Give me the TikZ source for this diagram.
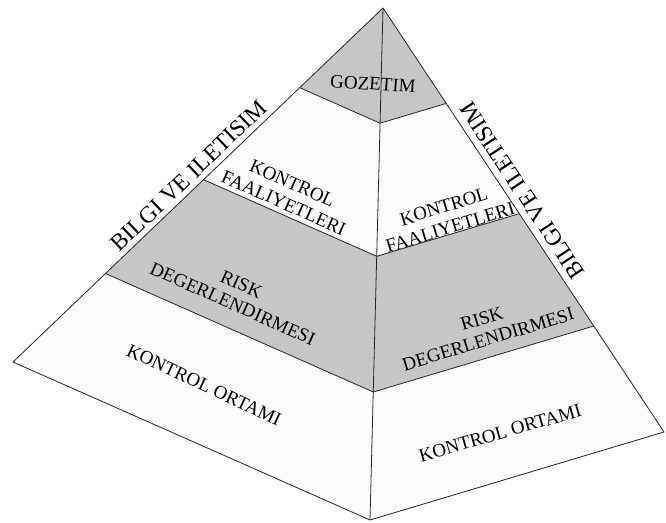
\documentclass[tikz,border=0pt]{standalone}
\usepackage{fontspec}
\setmainfont{Liberation Serif}
\usetikzlibrary{calc}
\definecolor{pyrGray}{RGB}{198,198,198}
\definecolor{pyrWhite}{RGB}{251,251,251}

\begin{document}
\begin{tikzpicture}[
    x=1pt, y=-1pt,
    pyrEdgeStyle/.style={black!85, line width=0.8pt, line join=round},
    pyrLabel/.style={font=\fontsize{19}{21.5}\selectfont, align=center, inner sep=0pt},
    pyrSideLabel/.style={font=\fontsize{23.5}{25}\selectfont, inner sep=5pt}
]
    \useasboundingbox (0,0) rectangle (666,522);

    % koseler
    \coordinate (apex) at (383,8);
    \coordinate (left) at (13,362);
    \coordinate (front) at (370,520);
    \coordinate (right) at (664,432);

    % katmanlar
    \foreach \ta/\tb/\kind in {0/0.225/pyrGray, 0.225/0.485/pyrWhite,
                               0.485/0.75/pyrGray, 0.75/1/pyrWhite} {
        \foreach \side in {left, right} {
            \fill[fill=\kind] ($(apex)!\ta!(\side)$) -- ($(apex)!\tb!(\side)$)
                -- ($(apex)!\tb!(front)$) -- ($(apex)!\ta!(front)$) -- cycle;
        }
    }

    % yazilar
    \node[pyrLabel, rotate=-4] (gozetim) at (373,84) {GOZETIM};
    \node[pyrLabel, rotate=-24] (faalL) at (288,193) {KONTROL\\FAALIYETLERI};
    \node[pyrLabel, rotate=17] (faalR) at (447,217) {KONTROL\\FAALIYETLERI};
    \node[pyrLabel, rotate=-24] (riskL) at (237,294) {RISK\\DEGERLENDIRMESI};
    \node[pyrLabel, rotate=17] (riskR) at (485,329) {RISK\\DEGERLENDIRMESI};
    \node[pyrLabel, rotate=-25] (ortamL) at (204,385) {KONTROL ORTAMI};
    \node[pyrLabel, rotate=16] (ortamR) at (500,433) {KONTROL ORTAMI};

    % kenarlar
    \draw[pyrEdgeStyle] (apex) -- (left) -- (front) -- (right) -- cycle;
    \draw[pyrEdgeStyle] (apex) -- (front);
    \foreach \t in {0.225, 0.485, 0.75}
        \draw[pyrEdgeStyle] ($(apex)!\t!(left)$) -- ($(apex)!\t!(front)$)
            -- ($(apex)!\t!(right)$);

    % bilgi ve iletisim
    \path (left) -- (apex) node[pyrSideLabel, pos=0.5, sloped, above]
        (bilgiL) {BILGI VE ILETISIM};
    \path (right) -- (apex) node[pyrSideLabel, pos=0.55, sloped,
        allow upside down, below, inner sep=7pt] (bilgiR) {BILGI VE ILETISIM};
\end{tikzpicture}
\end{document}
